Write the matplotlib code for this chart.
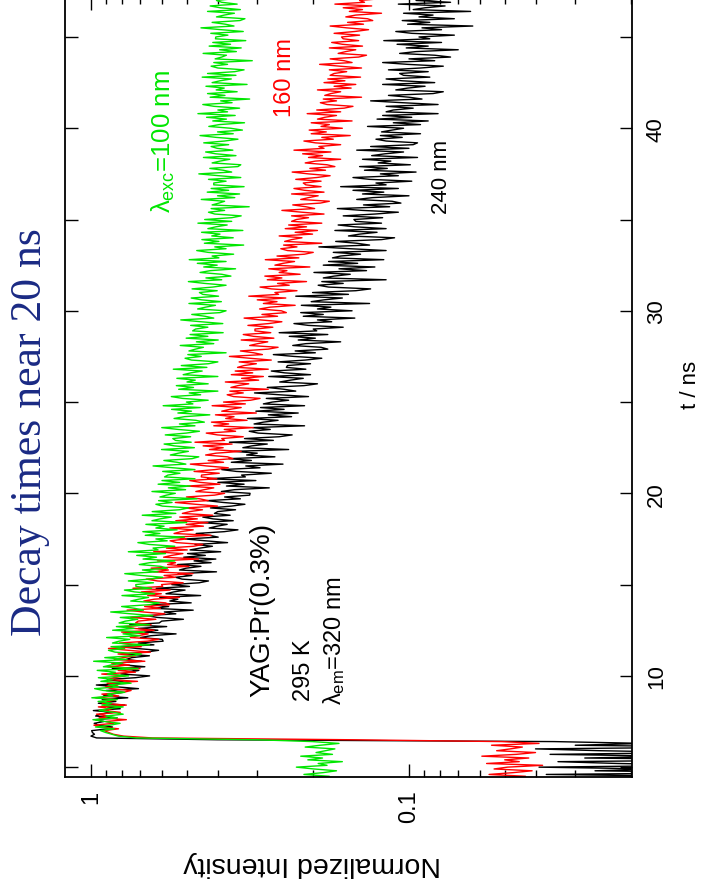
import numpy as np
import matplotlib
matplotlib.use("Agg")
import matplotlib.pyplot as plt
from matplotlib import font_manager
from matplotlib.ticker import FixedLocator, FixedFormatter, LogLocator, NullFormatter, MultipleLocator

# ---- decay traces: normalized intensity (per mille) sampled every 0.1 ns from 4.4 ns ----
t_start = 4.4
t_step = 0.1

green_pm = [
    205, 178, 214, 186, 169, 199, 226, 181, 193, 162, 208, 187, 219, 174, 196, 183, 171, 212, 190, 166, 201,
    300, 720, 820, 860, 900,
    933, 845, 968, 871, 810, 906, 986, 827, 898, 792,
    845, 942, 889, 792, 924, 862, 950, 827, 994, 854,
    887, 783, 914, 974, 818, 879, 748, 931, 853, 948,
    761, 888, 838, 956, 711, 914, 863, 795, 981, 770,
    905, 743, 695, 840, 881, 784, 865, 654, 856, 816,
    755, 893, 701, 793, 678, 855, 732, 832, 655, 816,
    779, 713, 809, 639, 750, 867, 684, 728, 801, 654,
    610, 750, 708, 659, 799, 631, 729, 785, 645, 722,
    723, 636, 763, 656, 595, 696, 783, 615, 689, 575,
    603, 705, 654, 545, 686, 622, 718, 583, 763, 615,
    638, 545, 656, 712, 576, 625, 508, 675, 607, 687,
    536, 625, 589, 672, 500, 643, 607, 559, 690, 541,
    642, 527, 493, 596, 625, 556, 613, 464, 607, 579,
    543, 643, 504, 571, 488, 615, 526, 598, 471, 587,
    573, 525, 595, 471, 552, 638, 503, 536, 590, 481,
    458, 563, 531, 494, 600, 473, 547, 589, 484, 542,
    553, 486, 584, 502, 456, 532, 599, 471, 527, 440,
    468, 548, 508, 423, 533, 483, 558, 453, 593, 478,
    501, 428, 515, 559, 452, 491, 399, 530, 476, 539,
    428, 499, 470, 537, 399, 513, 485, 447, 551, 432,
    520, 427, 399, 483, 506, 450, 496, 376, 492, 469,
    443, 524, 411, 466, 398, 502, 429, 488, 384, 479,
    469, 429, 486, 385, 451, 522, 411, 438, 482, 393,
    376, 462, 436, 406, 492, 389, 449, 484, 397, 445,
    456, 401, 481, 414, 376, 439, 494, 388, 435, 363,
    388, 454, 421, 351, 442, 401, 463, 376, 491, 396,
    416, 356, 428, 465, 376, 408, 331, 440, 396, 448,
    357, 417, 393, 449, 333, 429, 405, 373, 461, 361,
    439, 361, 337, 408, 427, 380, 419, 318, 416, 396,
    380, 450, 353, 400, 341, 431, 369, 419, 330, 411,
    411, 376, 427, 338, 396, 458, 361, 384, 423, 345,
    338, 416, 393, 366, 443, 350, 405, 436, 358, 401,
    419, 369, 442, 380, 345, 404, 454, 357, 400, 334,
    364, 426, 395, 329, 414, 375, 433, 352, 461, 372,
    399, 341, 410, 445, 360, 391, 317, 422, 379, 430,
    347, 404, 381, 435, 323, 416, 393, 362, 447, 350,
    430, 353, 330, 399, 419, 372, 411, 311, 407, 388,
    375, 444, 349, 394, 337, 425, 364, 414, 326, 406,
    405, 371, 420, 332, 390, 451, 355, 378, 416, 340,
    328, 403, 381, 354, 430, 339, 392, 422, 347, 388,
    403, 354, 388,
]

red_pm = [
    52, 43, 56, 47, 41, 54, 49, 38, 57, 45, 50, 42, 59, 46, 40, 53, 48, 44, 55, 39, 51,
    150, 640, 790, 850, 880,
    908, 819, 926, 979, 846, 899, 774, 943, 881, 961,
    809, 905, 861, 948, 774, 922, 879, 835, 966, 818,
    924, 790, 748, 865, 899, 823, 890, 714, 882, 848,
    781, 925, 725, 821, 701, 885, 757, 861, 677, 845,
    792, 725, 822, 650, 762, 881, 695, 740, 814, 665,
    612, 752, 710, 661, 801, 633, 731, 787, 647, 724,
    711, 625, 750, 645, 586, 684, 770, 605, 678, 566,
    583, 682, 632, 527, 663, 601, 694, 564, 738, 595,
    600, 513, 618, 670, 542, 589, 478, 635, 571, 647,
    492, 574, 542, 618, 459, 591, 558, 514, 635, 498,
    579, 476, 445, 538, 564, 501, 553, 419, 548, 522,
    477, 565, 443, 502, 429, 541, 463, 526, 414, 516,
    488, 446, 506, 400, 469, 543, 428, 455, 501, 409,
    380, 468, 441, 411, 498, 393, 454, 489, 402, 450,
    449, 395, 474, 408, 370, 433, 487, 383, 428, 358,
    372, 436, 404, 337, 424, 384, 444, 360, 471, 380,
    388, 332, 400, 434, 351, 381, 309, 411, 369, 418,
    323, 377, 355, 406, 302, 388, 366, 337, 416, 327,
    383, 315, 294, 356, 373, 332, 366, 277, 363, 345,
    319, 378, 297, 336, 287, 362, 310, 352, 277, 346,
    330, 302, 342, 271, 317, 367, 289, 308, 339, 277,
    258, 317, 299, 278, 337, 266, 308, 332, 272, 305,
    305, 268, 321, 276, 251, 293, 330, 259, 290, 243,
    252, 295, 273, 228, 287, 260, 300, 244, 319, 257,
    264, 225, 271, 294, 238, 259, 210, 279, 251, 284,
    220, 256, 242, 276, 205, 264, 249, 229, 283, 222,
    260, 213, 200, 241, 253, 225, 248, 188, 246, 234,
    217, 256, 201, 228, 194, 245, 210, 239, 188, 234,
    226, 207, 234, 185, 217, 251, 198, 211, 232, 190,
    178, 219, 207, 193, 234, 185, 213, 230, 189, 211,
    215, 189, 227, 195, 177, 207, 233, 183, 205, 171,
    181, 212, 197, 164, 207, 187, 216, 176, 230, 185,
    192, 164, 197, 214, 173, 188, 153, 203, 182, 206,
    162, 189, 178, 203, 151, 194, 184, 169, 209, 164,
    195, 160, 150, 181, 190, 169, 186, 141, 184, 176,
    164, 194, 152, 172, 147, 185, 159, 180, 142, 177,
    172, 157, 178, 141, 165, 191, 151, 160, 177, 144,
    136, 167, 158, 147, 178, 140, 162, 175, 144, 161,
    163, 143, 172, 148, 134, 157, 177, 139, 156, 130,
    135, 158, 147, 122, 154, 140, 161, 131, 171, 138,
    143, 122, 148,
]

black_pm = [
    31, 13, 37, 9, 26, 17, 39, 11, 22, 34, 8, 28, 15, 36, 12, 25, 40, 10, 30, 18, 35,
    400, 960, 1000, 975, 990,
    995, 884, 856, 949, 977, 911, 967, 828, 967, 939,
    853, 983, 809, 887, 783, 948, 835, 922, 766, 914,
    864, 791, 897, 709, 831, 962, 758, 807, 888, 725,
    654, 805, 760, 707, 857, 677, 782, 842, 692, 775,
    744, 655, 785, 675, 613, 717, 806, 634, 710, 593,
    597, 699, 648, 540, 679, 616, 711, 578, 756, 610,
    599, 512, 617, 669, 541, 588, 477, 634, 570, 646,
    484, 565, 533, 608, 452, 581, 549, 506, 624, 490,
    557, 457, 427, 517, 542, 482, 532, 403, 527, 502,
    451, 534, 419, 474, 405, 511, 437, 497, 391, 488,
    454, 415, 471, 372, 437, 505, 398, 424, 467, 381,
    345, 425, 401, 373, 453, 357, 413, 445, 365, 409,
    399, 351, 421, 362, 328, 384, 432, 339, 380, 317,
    316, 389, 354, 275, 375, 330, 399, 303, 430, 327,
    336, 271, 349, 388, 294, 326, 249, 362, 313, 368,
    264, 324, 300, 355, 239, 333, 312, 279, 367, 267,
    329, 256, 233, 298, 318, 273, 310, 213, 307, 287,
    258, 322, 234, 277, 223, 303, 247, 293, 213, 287,
    269, 239, 281, 207, 256, 306, 227, 247, 279, 214,
    194, 255, 236, 215, 276, 204, 246, 271, 211, 243,
    241, 204, 258, 212, 188, 230, 267, 197, 228, 180,
    189, 232, 211, 164, 223, 197, 238, 180, 256, 195,
    200, 161, 207, 230, 175, 194, 148, 215, 186, 219,
    151, 194, 176, 218, 133, 203, 185, 162, 227, 155,
    201, 147, 132, 179, 193, 161, 188, 118, 186, 172,
    153, 199, 136, 166, 128, 186, 145, 179, 120, 174,
    164, 142, 173, 118, 153, 192, 133, 146, 170, 122,
    111, 155, 143, 126, 171, 118, 148, 167, 122, 147,
    149, 121, 161, 128, 108, 140, 168, 115, 139, 106,
    113, 146, 130, 100, 140, 120, 150, 108, 164, 118,
    127, 98, 133, 150, 108, 123, 95, 138, 117, 143,
    99, 125, 114, 140, 94, 131, 119, 104, 146, 100,
    132, 97, 94, 118, 127, 105, 123, 92, 122, 113,
    104, 135, 92, 112, 87, 126, 98, 121, 81, 118,
    112, 97, 118, 81, 105, 132, 91, 100, 116, 84,
    78, 110, 101, 89, 121, 83, 105, 118, 86, 104,
    107, 87, 116, 92, 78, 101, 121, 83, 100, 74,
    83, 107, 95, 70, 102, 87, 109, 79, 120, 86,
    93, 72, 98, 110, 79, 91, 63, 101, 86, 105,
    72, 93, 84, 104, 64, 97, 89, 77, 108, 74,
    95, 73, 90,
]

x_ticks = [1, 0.1]
x_tick_labels = ["1", "0.1"]
t_ticks = [10, 20, 30, 40]
t_tick_labels = ["10", "20", "30", "40"]

# ---- fonts ----
installed = {f.name for f in font_manager.fontManager.ttflist}
sans = "Liberation Sans Narrow" if "Liberation Sans Narrow" in installed else "Liberation Sans"
plt.rcParams["font.family"] = [sans, "DejaVu Sans"]
plt.rcParams["mathtext.fontset"] = "custom"
plt.rcParams["mathtext.rm"] = sans
plt.rcParams["mathtext.it"] = sans
plt.rcParams["mathtext.bf"] = sans

W, H = 706, 895
fig = plt.figure(figsize=(W / 100, H / 100), dpi=100)
fig.patch.set_facecolor("white")

# plot frame in pixel terms: left 65, right 632, bottom 778, top just above the image edge
ax = fig.add_axes([65 / W, (H - 778) / H, (632 - 65) / W, 780 / H])


def times(n):
    return t_start + t_step * np.arange(n)


# time runs vertically, intensity horizontally (log scale, decreasing to the right)
series = [(black_pm, "black"), (red_pm, "#ff0000"), (green_pm, "#00e600")]
for vals, col in series:
    inten = np.asarray(vals, dtype=float) / 1000.0
    ax.plot(inten, times(len(vals)), color=col, lw=1.0)

ax.set_xscale("log")
ax.set_xlim(1.207, 0.01989)
ax.set_ylim(4.46, 47.19)

ax.xaxis.set_major_locator(FixedLocator(x_ticks))
ax.xaxis.set_major_formatter(FixedFormatter(x_tick_labels))
ax.xaxis.set_minor_locator(LogLocator(base=10, subs=np.arange(2, 10)))
ax.xaxis.set_minor_formatter(NullFormatter())

ax.yaxis.set_major_locator(FixedLocator(t_ticks))
ax.yaxis.set_major_formatter(FixedFormatter(t_tick_labels))
ax.yaxis.set_minor_locator(MultipleLocator(5))

ax.tick_params(axis="x", which="both", direction="in", top=True, bottom=True,
               labelrotation=90, labelsize=17, pad=9, width=1.0)
ax.tick_params(axis="x", which="major", length=9.4)
ax.tick_params(axis="x", which="minor", length=5)
ax.tick_params(axis="y", which="both", direction="in", left=True, right=True,
               labelleft=False, labelright=True, labelrotation=90, labelsize=16,
               pad=10, length=9, width=1.0)
for lab in ax.get_yticklabels():
    lab.set_verticalalignment("center")

for sp in ax.spines.values():
    sp.set_linewidth(1.3)

# axis titles
fig.text(312 / W, 1 - 864 / H, "Normalized Intensity", rotation=180,
         ha="center", va="center", fontsize=20.5)
fig.text(690 / W, 1 - 385 / H, "t / ns", rotation=90,
         ha="center", va="center", fontsize=16)

# annotations inside the frame
kw = dict(rotation=90, rotation_mode="anchor", ha="left", va="center")
ax.text(0.290, 8.90, "YAG:Pr(0.3%)", fontsize=20, color="black", **kw)
ax.text(0.214, 8.68, "295 K", fontsize=17, color="black", **kw)
ax.text(0.172, 8.46, r"$\lambda_{\mathrm{em}}$=320 nm", fontsize=17, color="black", **kw)
ax.text(0.594, 35.39, r"$\lambda_{\mathrm{exc}}$=100 nm", fontsize=18.5, color="#00e600", **kw)
ax.text(0.245, 40.66, "160 nm", fontsize=17, color="#ff0000", **kw)
ax.text(0.0793, 35.34, "240 nm", fontsize=16, color="black", **kw)

# slide heading
fig.text(30 / W, 1 - 432 / H, "Decay times near 20 ns", rotation=90,
         ha="center", va="center", fontsize=31.5, color="#1a2a84",
         family=["Liberation Serif", "DejaVu Serif"])

fig.savefig("out.png", dpi=100, facecolor="white")
